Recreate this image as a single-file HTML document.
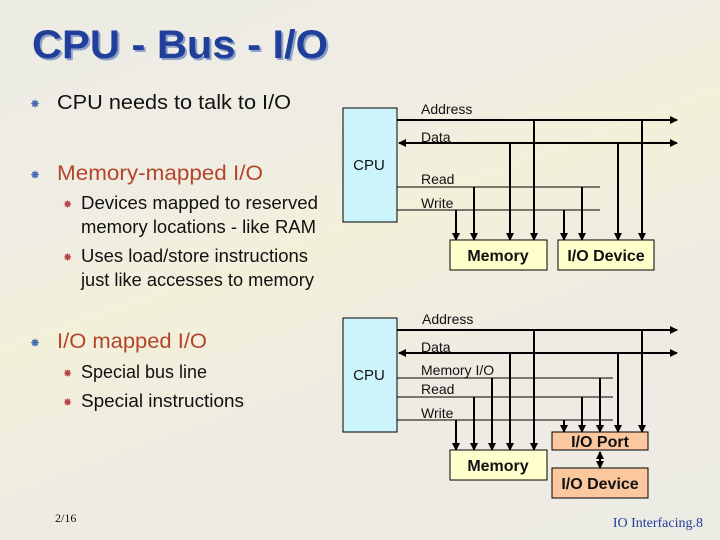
<!DOCTYPE html>
<html><head><meta charset="utf-8"><style>
html,body{margin:0;padding:0}
body{width:720px;height:540px;overflow:hidden;background:linear-gradient(160deg,#ecebe4 0%,#efede3 30%,#f3f0da 45%,#eeebe2 65%,#ecebe4 100%);}
</style></head><body>
<svg width="720" height="540" xmlns="http://www.w3.org/2000/svg" style="position:absolute;left:0;top:0">
<defs>
<marker id="a" markerWidth="8" markerHeight="8" refX="7" refY="4" orient="auto" markerUnits="userSpaceOnUse"><path d="M0,0 L8,4 L0,8 z" fill="#000"/></marker>
<marker id="s" markerWidth="8" markerHeight="8" refX="1" refY="4" orient="auto" markerUnits="userSpaceOnUse"><path d="M8,0 L0,4 L8,8 z" fill="#000"/></marker>
</defs>
<g font-family="Liberation Sans, sans-serif">
<text x="34" y="60" font-size="40" font-weight="bold" fill="#8fa0c8" textLength="296" lengthAdjust="spacingAndGlyphs">CPU - Bus - I/O</text>
<text x="32" y="58" font-size="40" font-weight="bold" fill="#1f3f9a" textLength="296" lengthAdjust="spacingAndGlyphs">CPU - Bus - I/O</text>
</g>
<g font-family="Liberation Sans, sans-serif" font-size="20">
<text x="30" y="108" font-size="12" fill="#4a6fb0">✸</text>
<text x="57" y="109" fill="#111" textLength="234" lengthAdjust="spacingAndGlyphs">CPU needs to talk to I/O</text>
<text x="30" y="179" font-size="12" fill="#4a6fb0">✸</text>
<text x="57" y="180" fill="#b5452a" font-size="21" textLength="206" lengthAdjust="spacingAndGlyphs">Memory-mapped I/O</text>
<g font-size="18" fill="#111">
<text x="63" y="208" font-size="11" fill="#b5454a">✸</text>
<text x="81" y="209" textLength="237" lengthAdjust="spacingAndGlyphs">Devices  mapped to reserved</text>
<text x="81" y="233" textLength="235" lengthAdjust="spacingAndGlyphs">memory locations - like RAM</text>
<text x="63" y="261" font-size="11" fill="#b5454a">✸</text>
<text x="81" y="262" textLength="227" lengthAdjust="spacingAndGlyphs">Uses load/store instructions</text>
<text x="81" y="286" textLength="233" lengthAdjust="spacingAndGlyphs">just like accesses to memory</text>
</g>
<text x="30" y="347" font-size="12" fill="#4a6fb0">✸</text>
<text x="57" y="348" fill="#b5452a" font-size="21" textLength="150" lengthAdjust="spacingAndGlyphs">I/O mapped I/O</text>
<g font-size="18" fill="#111">
<text x="63" y="377" font-size="11" fill="#b5454a">✸</text>
<text x="81" y="378" textLength="126" lengthAdjust="spacingAndGlyphs">Special bus line</text>
<text x="63" y="406" font-size="11" fill="#b5454a">✸</text>
<text x="81" y="407" textLength="163" lengthAdjust="spacingAndGlyphs">Special  instructions</text>
</g>
</g>
<text x="55" y="522" font-family="Liberation Serif, serif" font-size="12" fill="#111">2/16</text>
<text x="703" y="527" text-anchor="end" font-family="Liberation Serif, serif" font-size="14" fill="#1f3f9a">IO Interfacing.8</text>

<!-- Top diagram -->
<g stroke="#000" fill="none">
<rect x="343" y="108" width="54" height="114" fill="#ccf5fb" stroke-width="1"/>
<line x1="397" y1="120" x2="677" y2="120" stroke-width="2" marker-end="url(#a)"/>
<line x1="399" y1="143" x2="677" y2="143" stroke-width="2" marker-end="url(#a)" marker-start="url(#s)"/>
<line x1="397" y1="187" x2="600" y2="187"/>
<line x1="397" y1="210" x2="600" y2="210"/>
<g stroke-width="2" marker-end="url(#a)">
<line x1="456" y1="210" x2="456" y2="240"/>
<line x1="474" y1="187" x2="474" y2="240"/>
<line x1="510" y1="143" x2="510" y2="240"/>
<line x1="534" y1="120" x2="534" y2="240"/>
<line x1="564" y1="210" x2="564" y2="240"/>
<line x1="582" y1="187" x2="582" y2="240"/>
<line x1="618" y1="143" x2="618" y2="240"/>
<line x1="642" y1="120" x2="642" y2="240"/>
</g>
<rect x="450" y="240" width="97" height="30" fill="#ffffcc"/>
<rect x="558" y="240" width="96" height="30" fill="#ffffcc"/>
</g>
<g font-family="Liberation Sans, sans-serif" font-size="14" fill="#111">
<text x="421" y="114">Address</text>
<text x="421" y="142">Data</text>
<text x="369" y="170" text-anchor="middle" font-size="15">CPU</text>
<text x="421" y="184">Read</text>
<text x="421" y="208">Write</text>
<text x="498" y="261" text-anchor="middle" font-size="16" font-weight="bold">Memory</text>
<text x="606" y="261" text-anchor="middle" font-size="16" font-weight="bold">I/O Device</text>
</g>

<!-- Bottom diagram -->
<g stroke="#000" fill="none">
<rect x="343" y="318" width="54" height="114" fill="#ccf5fb"/>
<line x1="397" y1="330" x2="677" y2="330" stroke-width="2" marker-end="url(#a)"/>
<line x1="399" y1="353" x2="677" y2="353" stroke-width="2" marker-end="url(#a)" marker-start="url(#s)"/>
<line x1="397" y1="378" x2="613" y2="378"/>
<line x1="397" y1="397" x2="613" y2="397"/>
<line x1="397" y1="420" x2="613" y2="420"/>
<g stroke-width="2" marker-end="url(#a)">
<line x1="456" y1="420" x2="456" y2="450"/>
<line x1="474" y1="397" x2="474" y2="450"/>
<line x1="492" y1="378" x2="492" y2="450"/>
<line x1="510" y1="353" x2="510" y2="450"/>
<line x1="534" y1="330" x2="534" y2="450"/>
<line x1="564" y1="420" x2="564" y2="432"/>
<line x1="582" y1="397" x2="582" y2="432"/>
<line x1="600" y1="378" x2="600" y2="432"/>
<line x1="618" y1="353" x2="618" y2="432"/>
<line x1="642" y1="330" x2="642" y2="432"/>
<line x1="600" y1="452" x2="600" y2="468" marker-start="url(#s)"/>
</g>
<rect x="450" y="450" width="97" height="30" fill="#ffffcc"/>
<rect x="552" y="432" width="96" height="18" fill="#fbc79c"/>
<rect x="552" y="468" width="96" height="30" fill="#fbc79c"/>
</g>
<g font-family="Liberation Sans, sans-serif" font-size="14" fill="#111">
<text x="422" y="324">Address</text>
<text x="421" y="352">Data</text>
<text x="369" y="380" text-anchor="middle" font-size="15">CPU</text>
<text x="421" y="375">Memory I/O</text>
<text x="421" y="394">Read</text>
<text x="421" y="418">Write</text>
<text x="498" y="471" text-anchor="middle" font-size="16" font-weight="bold">Memory</text>
<text x="600" y="447" text-anchor="middle" font-size="16" font-weight="bold">I/O Port</text>
<text x="600" y="489" text-anchor="middle" font-size="16" font-weight="bold">I/O Device</text>
</g>
</svg>
</body></html>
